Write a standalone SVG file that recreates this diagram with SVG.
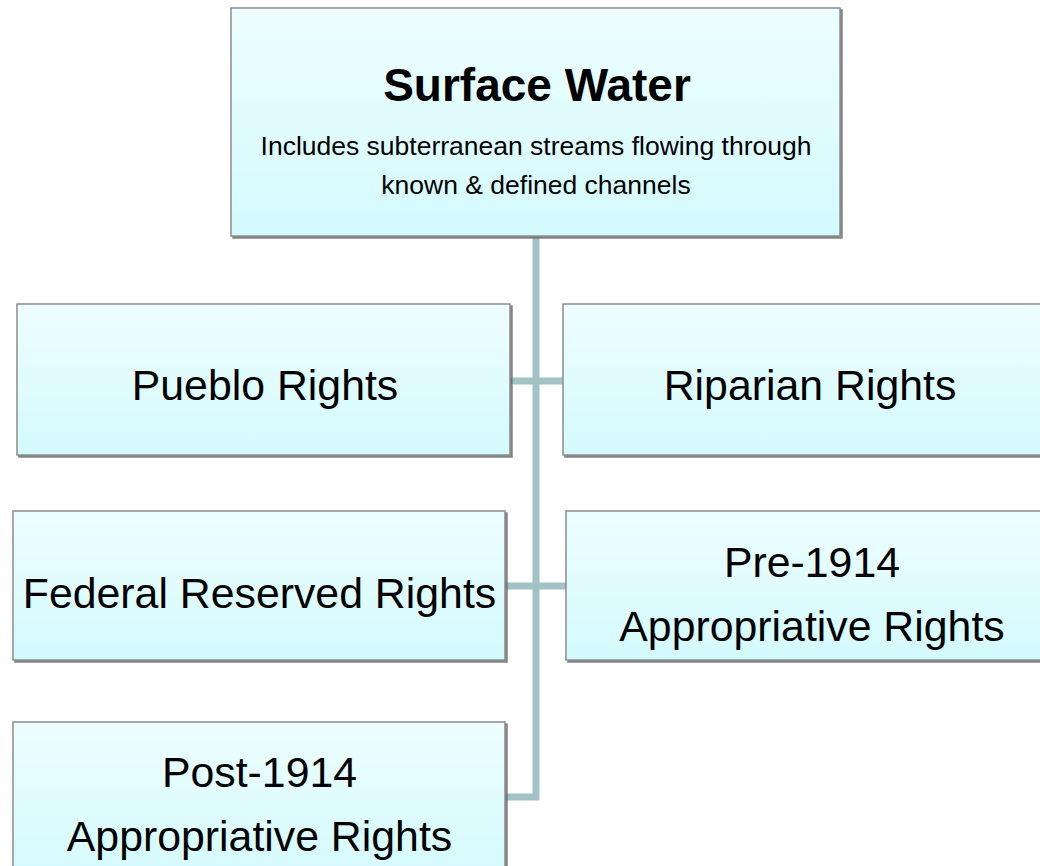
<svg xmlns="http://www.w3.org/2000/svg" width="1040" height="866" viewBox="0 0 1040 866">
<defs>
<linearGradient id="g" x1="0" y1="0" x2="0" y2="1">
<stop offset="0" stop-color="#eefeff"/>
<stop offset="1" stop-color="#d3fafd"/>
</linearGradient>
<filter id="sh" x="-5%" y="-5%" width="110%" height="110%">
<feDropShadow dx="2" dy="2" stdDeviation="0.6" flood-color="#666" flood-opacity="0.8"/>
</filter>
<style>
.box{fill:url(#g);stroke:#8c8c8c;stroke-width:1.5;filter:url(#sh)}
.t{font-family:"Liberation Sans",Arial,sans-serif;fill:#000;text-anchor:middle}
.lbl{font-size:42.8px}
.conn{fill:none;stroke:#a3c2c5;stroke-width:7}
</style>
</defs>
<rect width="1040" height="866" fill="#fff"/>
<g id="connectors">
<path class="conn" d="M536,236 V797 H505"/>
<path class="conn" d="M510,381 H563"/>
<path class="conn" d="M505,586 H566"/>
</g>
<g id="surface-water">
<rect class="box" x="231" y="8" width="609" height="228"/>
<text class="t" x="537" y="101" font-size="46" font-weight="bold">Surface Water</text>
<text class="t" x="536" y="155" font-size="26.5">Includes subterranean streams flowing through</text>
<text class="t" x="536" y="194" font-size="26.5">known &amp; defined channels</text>
</g>
<g id="pueblo">
<rect class="box" x="17" y="304" width="493" height="151"/>
<text class="t lbl" x="265" y="400">Pueblo Rights</text>
</g>
<g id="riparian">
<rect class="box" x="563" y="304" width="500" height="151"/>
<text class="t lbl" x="810" y="400">Riparian Rights</text>
</g>
<g id="federal">
<rect class="box" x="13" y="511" width="492" height="149"/>
<text class="t lbl" x="259.5" y="608">Federal Reserved Rights</text>
</g>
<g id="pre1914">
<rect class="box" x="566" y="511" width="500" height="149"/>
<text class="t lbl" x="812" y="577">Pre-1914</text>
<text class="t lbl" x="812" y="641">Appropriative Rights</text>
</g>
<g id="post1914">
<rect class="box" x="13" y="722" width="492" height="160"/>
<text class="t lbl" x="259.5" y="787">Post-1914</text>
<text class="t lbl" x="259.5" y="851">Appropriative Rights</text>
</g>
</svg>
